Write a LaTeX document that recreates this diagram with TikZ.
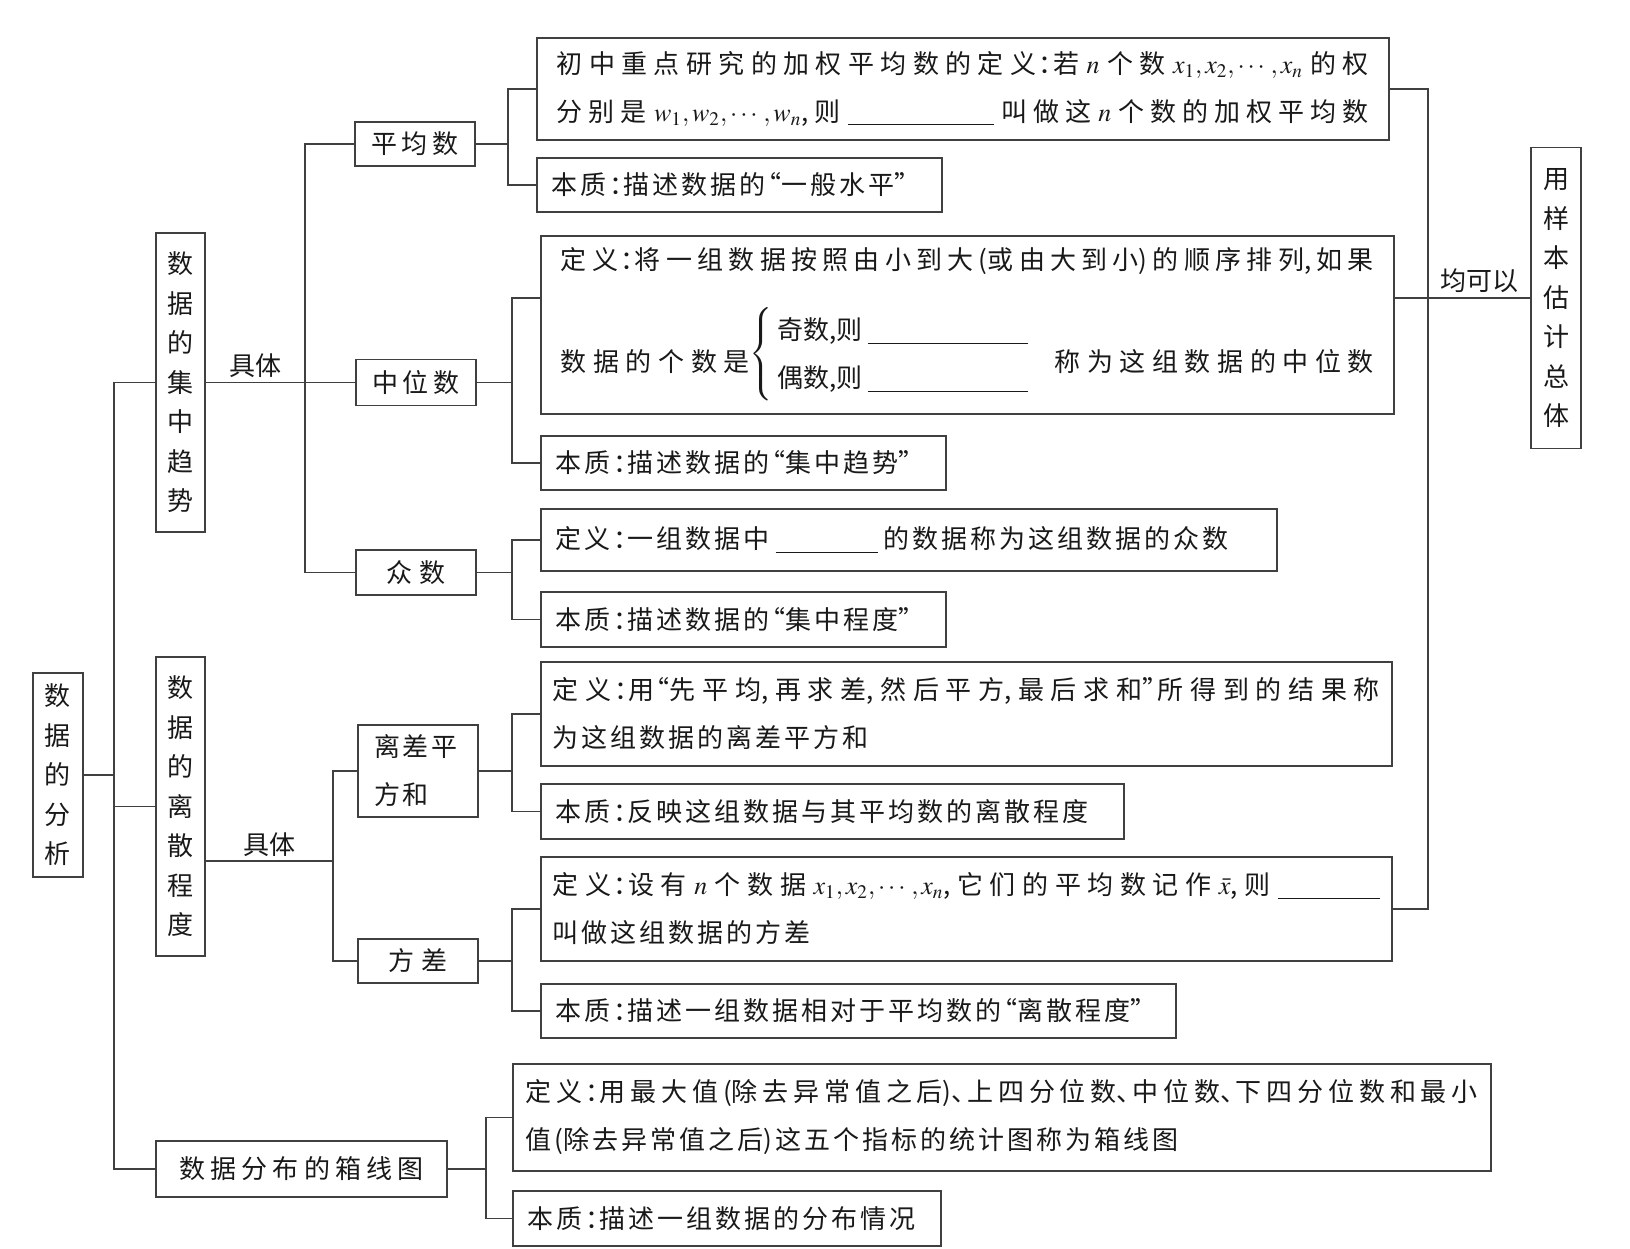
\documentclass[tikz,border=0pt]{standalone}
\usepackage{mathptmx}
\usepackage[no-math]{fontspec}
\setmainfont{Noto Sans CJK SC}
\usepackage{amsmath}
\usetikzlibrary{calc}
\XeTeXlinebreaklocale "zh"
\XeTeXlinebreakskip = 1.5pt plus 3pt
\newcommand{\mh}{\kern.1em：\kern-.45em}
\newcommand{\lyin}{\kern-.4em“}
\newcommand{\ryin}{”\kern-.4em}
\newcommand{\dun}{、\kern-.4em}
\newcommand{\tiankong}[1]{\rule[-2pt]{#1}{0.6pt}}
\newcommand{\manhang}[1]{{\parfillskip=0pt\relax #1\par}}
\tikzset{
  lian/.style={draw=black!75, line width=0.8pt},
  kuang/.style={draw=black!75, line width=0.8pt, inner ysep=0pt, text=black!90, font=\fontsize{13}{24}\selectfont},
  ding/.style={kuang, anchor=north west, align=justify},
  shu/.style={kuang, align=center, inner xsep=0pt, font=\fontsize{13}{19.75}\selectfont},
  heng/.style={kuang, align=center, minimum width=60pt, text width=56pt, inner xsep=2pt},
  biao/.style={text=black!90, font=\fontsize{13}{24}\selectfont, inner sep=2pt}
}
\begin{document}
\begin{tikzpicture}[x=0.5pt, y=-0.5pt]
\useasboundingbox (0,0) rectangle (1630,1249);

\node [shu, minimum width=25pt, minimum height=102pt] (fenxi) at (58,775) {数\\据\\的\\分\\析};
\node [shu, minimum width=24.5pt, minimum height=149.5pt] (jizhong) at (180.5,382.5) {数\\据\\的\\集\\中\\趋\\势};
\node [shu, minimum width=24.5pt, minimum height=149.5pt] (lisan) at (180.5,806.5) {数\\据\\的\\离\\散\\程\\度};
\node [shu, minimum width=25pt, minimum height=150.5pt] (guji) at (1556,298) {用\\样\\本\\估\\计\\总\\体};

\node [heng, minimum width=145.5pt, text width=140pt, inner xsep=2.75pt, minimum height=28pt] (xiangxian) at (301.5,1169) {数据分布的箱线图};
\node [heng, minimum height=22pt] (pingjun) at (415,144) {平均数};
\node [heng, minimum height=23pt] (zhongwei) at (416,382.5) {中位数};
\node [heng, minimum height=22.5pt] (zhongshu) at (416,572.5) {众数};
\node [heng, minimum height=46pt, align=left, text width=44pt, inner xsep=8pt] (licha) at (418,771) {离差平\\方和};
\node [heng, minimum height=22pt] (fangcha) at (418,961) {方差};

\node [ding, minimum width=426pt, minimum height=51pt, text width=406pt, inner xsep=10pt] (dy1) at (536,37)
  {\manhang{初中重点研究的加权平均数的定义\mh 若 $n$ 个数 $x_1,x_2,\cdots,x_n$ 的权}\manhang{分别是 $w_1,w_2,\cdots,w_n$,则 \tiankong{73pt} 叫做这 $n$ 个数的加权平均数}};
\node [ding, minimum width=202.5pt, minimum height=27pt, text width=187.5pt, inner xsep=7.5pt] (bz1) at (536,157)
  {本质\mh 描述数据的\lyin 一般水平\ryin};
\node [ding, minimum width=426.5pt, minimum height=89pt, text width=406.5pt, inner xsep=10pt] (dy2) at (540,235)
  {\vspace*{4pt}\manhang{定义\mh 将一组数据按照由小到大(或由大到小)的顺序排列,如果}\vspace{11pt}\manhang{数据的个数是\raisebox{5.5pt}{$\left\{\begin{tabular}{@{\,}l@{}}奇数,则 \tiankong{80pt}\\偶数,则 \tiankong{80pt}\end{tabular}\right.$}\hspace{12pt}称为这组数据的中位数}};
\node [ding, minimum width=202.5pt, minimum height=27pt, text width=187.5pt, inner xsep=7.5pt] (bz2) at (540,435)
  {本质\mh 描述数据的\lyin 集中趋势\ryin};
\node [ding, minimum width=368pt, minimum height=31pt, text width=353pt, inner xsep=7.5pt] (dy3) at (540,508)
  {定义\mh 一组数据中 \tiankong{51pt} 的数据称为这组数据的众数};
\node [ding, minimum width=202.5pt, minimum height=27.5pt, text width=187.5pt, inner xsep=7.5pt] (bz3) at (540,591)
  {本质\mh 描述数据的\lyin 集中程度\ryin};
\node [ding, minimum width=425.5pt, minimum height=52pt, text width=413.5pt, inner xsep=6pt] (dy4) at (540,661)
  {\manhang{定义\mh 用\lyin 先平均,再求差,然后平方,最后求和\ryin 所得到的结果称}为这组数据的离差平方和};
\node [ding, minimum width=291.5pt, minimum height=27.5pt, text width=276.5pt, inner xsep=7.5pt] (bz4) at (540,783)
  {本质\mh 反映这组数据与其平均数的离散程度};
\node [ding, minimum width=425.5pt, minimum height=52pt, text width=413.5pt, inner xsep=6pt] (dy5) at (540,856)
  {\manhang{定义\mh 设有 $n$ 个数据 $x_1,x_2,\cdots,x_n$,它们的平均数记作 $\bar{x}$,则 \tiankong{51pt}}叫做这组数据的方差};
\node [ding, minimum width=317.5pt, minimum height=27pt, text width=302.5pt, inner xsep=7.5pt] (bz5) at (540,983)
  {本质\mh 描述一组数据相对于平均数的\lyin 离散程度\ryin};
\node [ding, minimum width=489pt, minimum height=53.5pt, text width=476pt, inner xsep=6.5pt] (dy6) at (512,1063)
  {\manhang{定义\mh 用最大值(除去异常值之后)\dun 上四分位数\dun 中位数\dun 下四分位数和最小}值(除去异常值之后)这五个指标的统计图称为箱线图};
\node [ding, minimum width=214pt, minimum height=27.5pt, text width=199pt, inner xsep=7.5pt] (bz6) at (512,1190)
  {本质\mh 描述一组数据的分布情况};

\coordinate (z0) at (114,0);
\coordinate (z1) at (305,0);
\coordinate (z2) at (333,861);
\coordinate (z3) at (508,0);
\coordinate (z4) at (512,298);
\coordinate (z5) at (512,0);
\coordinate (z6) at (486,0);
\coordinate (z7) at (1428,0);

\draw [lian] (fenxi.east) -- (fenxi.east -| z0);
\draw [lian] (jizhong.west) -| (z0 |- xiangxian.west) -- (xiangxian.west);
\draw [lian] (lisan.west) -- (lisan.west -| z0);

\draw [lian] (jizhong.east) -- node [biao, above] (jt1) {具体} (jizhong.east -| z1);
\draw [lian] (pingjun.west) -| (z1 |- zhongshu.west) -- (zhongshu.west);
\draw [lian] (zhongwei.west) -- (zhongwei.west -| z1);
\draw [lian] (lisan.east |- z2) -- node [biao, above] (jt2) {具体} (z2);
\draw [lian] (licha.west) -| (z2 |- fangcha.west) -- (fangcha.west);

\draw [lian] (pingjun.east) -- (pingjun.east -| z3);
\draw [lian] (dy1.west) -| (z3 |- bz1.west) -- (bz1.west);
\draw [lian] (zhongwei.east) -- (zhongwei.east -| z4);
\draw [lian] (z4 -| dy2.west) -- (z4) |- (bz2.west);
\draw [lian] (zhongshu.east) -- (zhongshu.east -| z5);
\draw [lian] (dy3.west) -| (z5 |- bz3.west) -- (bz3.west);
\draw [lian] (licha.east) -- (licha.east -| z5);
\draw [lian] (dy4.west) -| (z5 |- bz4.west) -- (bz4.west);
\draw [lian] (fangcha.east) -- (fangcha.east -| z5);
\draw [lian] (dy5.west) -| (z5 |- bz5.west) -- (bz5.west);
\draw [lian] (xiangxian.east) -- (xiangxian.east -| z6);
\draw [lian] (dy6.west) -| (z6 |- bz6.west) -- (bz6.west);

\draw [lian] (dy1.east) -| (z7 |- dy5.east) -- (dy5.east);
\draw [lian] (z4 -| dy2.east) -- (z4 -| z7) -- node [biao, above] (jky) {均可以} (guji.west);
\end{tikzpicture}
\end{document}
